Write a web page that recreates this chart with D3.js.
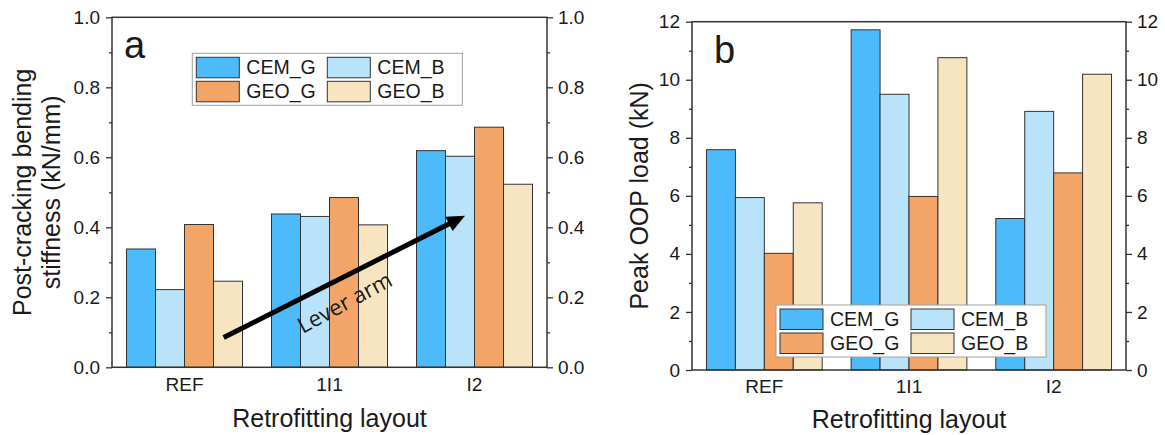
<!DOCTYPE html>
<html>
<head>
<meta charset="utf-8">
<script src="https://cdn.jsdelivr.net/npm/d3@7"></script>
<style>
  body { margin: 0; background: #fff; }
  text { font-family: "Liberation Sans", Arial, sans-serif; fill: #1a1a1a; }
</style>
</head>
<body>
<svg id="chart" width="1165" height="435"></svg>
<script>
var categories = ["REF", "1I1", "I2"];
var seriesNames = ["CEM_G", "CEM_B", "GEO_G", "GEO_B"];
var seriesColors = ["#4dbafb", "#b8e3fb", "#f2a566", "#f7e4c1"];

// post-cracking bending stiffness (kN/mm), one row per series
var stiffness = [
  [0.338, 0.438, 0.619],
  [0.222, 0.431, 0.603],
  [0.408, 0.485, 0.686],
  [0.246, 0.407, 0.523]
];
// peak OOP load (kN)
var peakLoad = [
  [7.59, 11.72, 5.22],
  [5.94, 9.50, 8.91],
  [4.02, 5.98, 6.79],
  [5.76, 10.76, 10.19]
];

var stiffTicks = [0, 0.2, 0.4, 0.6, 0.8, 1.0];
var stiffMinor = [0.1, 0.3, 0.5, 0.7, 0.9];
var loadTicks = [0, 2, 4, 6, 8, 10, 12];
var loadMinor = [1, 3, 5, 7, 9, 11];

// lever arm arrow, x in category units (0..3), y in kN/mm
var arrowStart = [0.77, 0.085];
var arrowEnd = [2.435, 0.433];
var arrowLabelAt = [1.6, 0.188];

var svg = d3.select("#chart");

function drawPanel(p) {
  var g = svg.append("g");
  var x0 = d3.scaleBand().domain(categories)
             .range([p.left, p.right]).paddingInner(0.2).paddingOuter(0.1);
  var x1 = d3.scaleBand().domain(seriesNames).range([0, x0.bandwidth()]);
  var y = d3.scaleLinear().domain(p.domain).range([p.bottom, p.top]);

  // bars
  seriesNames.forEach(function(s, si) {
    g.selectAll(null)
     .data(p.values[si])
     .enter().append("rect")
     .attr("x", function(d, i) { return x0(categories[i]) + x1(s); })
     .attr("y", function(d) { return y(d); })
     .attr("width", x1.bandwidth())
     .attr("height", function(d) { return y(0) - y(d); })
     .attr("fill", seriesColors[si])
     .attr("stroke", "#333")
     .attr("stroke-width", 1);
  });

  // y axes, both sides, major + minor
  var left = g.append("g").attr("transform", "translate(" + p.left + ",0)")
    .call(d3.axisLeft(y).tickValues(p.ticks).tickFormat(d3.format(p.fmt))
      .tickSizeInner(6).tickSizeOuter(0).tickPadding(6));
  var leftMinor = g.append("g").attr("transform", "translate(" + p.left + ",0)")
    .call(d3.axisLeft(y).tickValues(p.minor).tickFormat("").tickSizeInner(3).tickSizeOuter(0));
  var right = g.append("g").attr("transform", "translate(" + p.right + ",0)")
    .call(d3.axisRight(y).tickValues(p.ticks).tickFormat(d3.format(p.fmt))
      .tickSizeInner(6).tickSizeOuter(0).tickPadding(5));
  var rightMinor = g.append("g").attr("transform", "translate(" + p.right + ",0)")
    .call(d3.axisRight(y).tickValues(p.minor).tickFormat("").tickSizeInner(3).tickSizeOuter(0));
  var bottom = g.append("g").attr("transform", "translate(0," + p.bottom + ")")
    .call(d3.axisBottom(x0).tickSize(0).tickPadding(10));

  [left, leftMinor, right, rightMinor, bottom].forEach(function(a) {
    a.select(".domain").remove();
    a.selectAll("line").attr("stroke", "#333").attr("stroke-width", 1.3);
    a.selectAll("text").attr("font-size", 19)
      .attr("font-family", "'Liberation Sans', Arial, sans-serif").attr("fill", "#1a1a1a");
  });

  // frame
  g.append("rect")
   .attr("x", p.left).attr("y", p.top)
   .attr("width", p.right - p.left).attr("height", p.bottom - p.top)
   .attr("fill", "none").attr("stroke", "#333").attr("stroke-width", 1.5);

  // titles
  g.append("text")
   .attr("x", (p.left + p.right) / 2).attr("y", p.xTitleY)
   .attr("text-anchor", "middle").attr("font-size", 25)
   .text("Retrofitting layout");
  p.yTitle.forEach(function(t, i) {
    g.append("text")
     .attr("transform", "translate(" + p.yTitleX[i] + "," + (p.top + p.bottom) / 2 + ") rotate(-90)")
     .attr("text-anchor", "middle").attr("font-size", 25)
     .text(t);
  });

  // panel letter
  g.append("text")
   .attr("x", p.left + p.letterDx).attr("y", p.top + 41)
   .attr("font-size", 38).text(p.letter);

  // legend
  var lg = g.append("g").attr("transform", "translate(" + p.legend[0] + "," + p.legend[1] + ")");
  lg.append("rect").attr("width", 270).attr("height", 52)
    .attr("fill", "#fff").attr("stroke", "#a0a0a0").attr("stroke-width", 1);
  seriesNames.forEach(function(s, i) {
    var col = i % 2, row = Math.floor(i / 2);
    lg.append("rect")
      .attr("x", 4 + col * 131).attr("y", 4 + row * 24)
      .attr("width", 43).attr("height", 20.5)
      .attr("fill", seriesColors[i]).attr("stroke", "#333").attr("stroke-width", 1);
    lg.append("text")
      .attr("x", 54 + col * 131).attr("y", 20.5 + row * 24)
      .attr("font-size", 19.5).text(s);
  });

  return { x0: x0, y: y };
}

var a = drawPanel({
  left: 112, right: 547, top: 17.3, bottom: 367.3,
  domain: [0, 1], ticks: stiffTicks, minor: stiffMinor, fmt: ".1f",
  values: stiffness,
  yTitle: ["Post-cracking bending", "stiffness (kN/mm)"], yTitleX: [31, 60],
  xTitleY: 427, letter: "a", letterDx: 12, legend: [192.3, 53.3]
});

drawPanel({
  left: 692, right: 1126, top: 21.7, bottom: 370,
  domain: [0, 12], ticks: loadTicks, minor: loadMinor, fmt: "d",
  values: peakLoad,
  yTitle: ["Peak OOP load (kN)"], yTitleX: [648],
  xTitleY: 428, letter: "b", letterDx: 22, legend: [776, 305]
});

// lever arm annotation on panel a
var xc = d3.scaleLinear().domain([0, 3]).range([112, 547]);
var sx = xc(arrowStart[0]), sy = a.y(arrowStart[1]);
var ex = xc(arrowEnd[0]), ey = a.y(arrowEnd[1]);
var ang = Math.atan2(ey - sy, ex - sx);
var headLen = 18, headHalf = 8;
var bx = ex - headLen * Math.cos(ang), by = ey - headLen * Math.sin(ang);
svg.append("line")
   .attr("x1", sx).attr("y1", sy)
   .attr("x2", bx + 2 * Math.cos(ang)).attr("y2", by + 2 * Math.sin(ang))
   .attr("stroke", "#000").attr("stroke-width", 5);
svg.append("path")
   .attr("d", d3.line()([
     [ex, ey],
     [bx - headHalf * Math.sin(ang), by + headHalf * Math.cos(ang)],
     [bx + headHalf * Math.sin(ang), by - headHalf * Math.cos(ang)]
   ]) + "Z")
   .attr("fill", "#000");
svg.append("text")
   .attr("transform", "translate(" + xc(arrowLabelAt[0]) + "," + a.y(arrowLabelAt[1]) + ") rotate(" + (ang * 180 / Math.PI - 1.5) + ")")
   .attr("text-anchor", "middle").attr("dominant-baseline", "central")
   .style("font-family", "'Open Sans', sans-serif").attr("font-size", 22)
   .text("Lever arm");
</script>
</body>
</html>
